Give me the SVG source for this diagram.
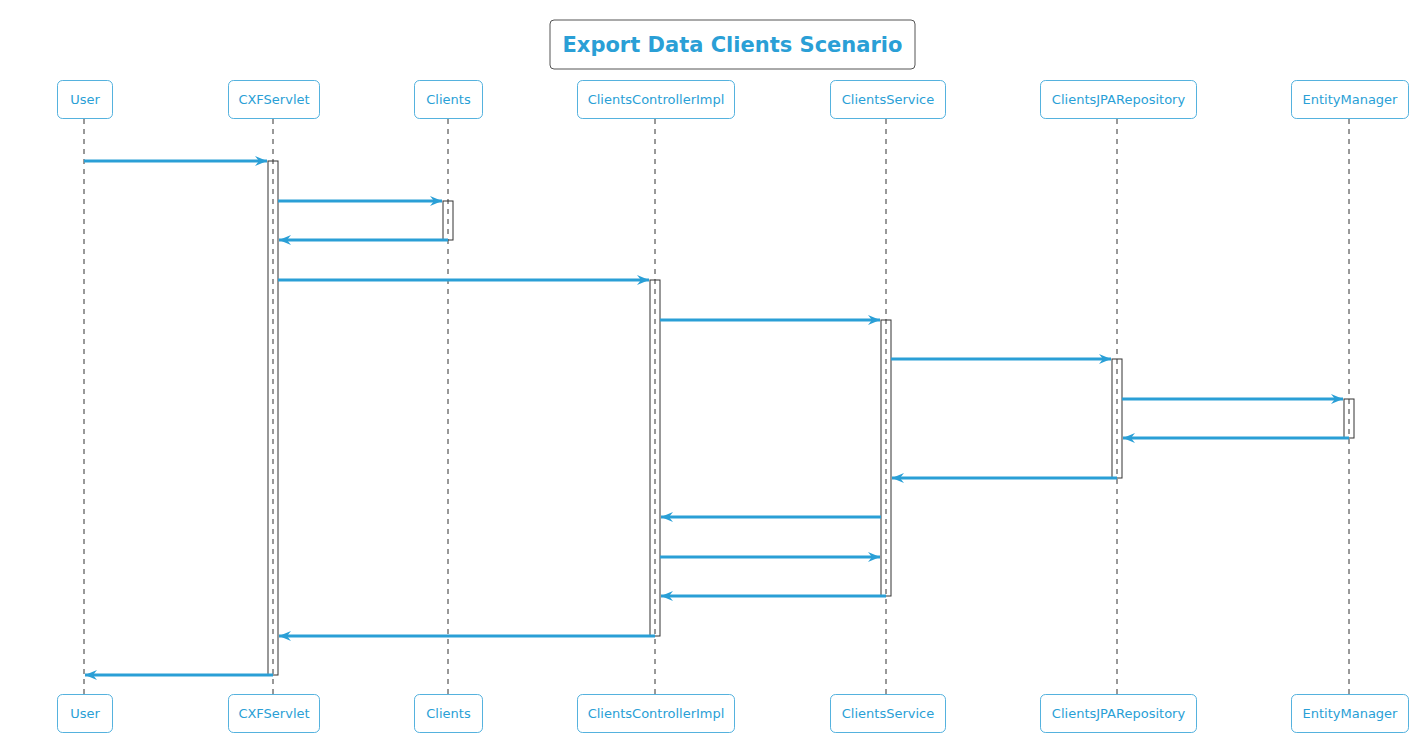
<svg xmlns="http://www.w3.org/2000/svg" width="1419" height="743" viewBox="0 0 1419 743">
<style>
.p rect{fill:#fff;stroke:#2a9fd6;stroke-width:1;stroke-opacity:0.8}
.p text{font-family:"DejaVu Sans",sans-serif;font-size:13px;fill:#2a9fd6;text-anchor:middle}
.life{stroke:#333;stroke-width:1;stroke-dasharray:5,5}
.act{fill:none;stroke:#333;stroke-width:1}
.msg{stroke:#2a9fd6;stroke-width:3;marker-end:url(#ah)}
</style>
<defs>
<marker id="ah" markerUnits="userSpaceOnUse" viewBox="0 0 12 10" refX="12" refY="5" markerWidth="12" markerHeight="10" orient="auto">
<path d="M0,0 L12,5 L0,10 L4,5 Z" fill="#2a9fd6"/>
</marker>
</defs>
<rect width="1419" height="743" fill="#fff"/>
<g id="title">
<rect x="550" y="20" width="365" height="49" rx="4" fill="#fff" stroke="#555" stroke-width="1"/>
<text x="732.5" y="52" font-family="DejaVu Sans, sans-serif" font-size="21" font-weight="bold" fill="#2a9fd6" text-anchor="middle">Export Data Clients Scenario</text>
</g>
<g id="lifelines">
<line class="life" x1="84" y1="119" x2="84" y2="694"/>
<line class="life" x1="273" y1="119" x2="273" y2="694"/>
<line class="life" x1="448" y1="119" x2="448" y2="694"/>
<line class="life" x1="655" y1="119" x2="655" y2="694"/>
<line class="life" x1="886" y1="119" x2="886" y2="694"/>
<line class="life" x1="1117" y1="119" x2="1117" y2="694"/>
<line class="life" x1="1349" y1="119" x2="1349" y2="694"/>
</g>
<g id="activations">
<rect class="act" x="268" y="161" width="10" height="514"/>
<rect class="act" x="443" y="201" width="10" height="39"/>
<rect class="act" x="650" y="280" width="10" height="356"/>
<rect class="act" x="881" y="320" width="10" height="276"/>
<rect class="act" x="1112" y="359" width="10" height="119"/>
<rect class="act" x="1344" y="399" width="10" height="39"/>
</g>
<g id="connectors">
<line class="msg" x1="84" y1="161" x2="267" y2="161"/>
<line class="msg" x1="278" y1="201" x2="442" y2="201"/>
<line class="msg" x1="448" y1="240" x2="279" y2="240"/>
<line class="msg" x1="278" y1="280" x2="649" y2="280"/>
<line class="msg" x1="660" y1="320" x2="880" y2="320"/>
<line class="msg" x1="891" y1="359" x2="1111" y2="359"/>
<line class="msg" x1="1122" y1="399" x2="1343" y2="399"/>
<line class="msg" x1="1349" y1="438" x2="1123" y2="438"/>
<line class="msg" x1="1117" y1="478" x2="892" y2="478"/>
<line class="msg" x1="881" y1="517" x2="661" y2="517"/>
<line class="msg" x1="660" y1="557" x2="880" y2="557"/>
<line class="msg" x1="886" y1="596" x2="661" y2="596"/>
<line class="msg" x1="655" y1="636" x2="279" y2="636"/>
<line class="msg" x1="273" y1="675" x2="85" y2="675"/>
</g>
<g id="user" class="p">
<rect x="57.5" y="80.5" width="55" height="38" rx="5"/><text x="85" y="104">User</text>
<rect x="57.5" y="694.5" width="55" height="38" rx="5"/><text x="85" y="718">User</text>
</g>
<g id="cxfservlet" class="p">
<rect x="228.5" y="80.5" width="91" height="38" rx="5"/><text x="274" y="104">CXFServlet</text>
<rect x="228.5" y="694.5" width="91" height="38" rx="5"/><text x="274" y="718">CXFServlet</text>
</g>
<g id="clients" class="p">
<rect x="414.5" y="80.5" width="68" height="38" rx="5"/><text x="448.5" y="104">Clients</text>
<rect x="414.5" y="694.5" width="68" height="38" rx="5"/><text x="448.5" y="718">Clients</text>
</g>
<g id="clientscontrollerimpl" class="p">
<rect x="577.5" y="80.5" width="157" height="38" rx="5"/><text x="656" y="104">ClientsControllerImpl</text>
<rect x="577.5" y="694.5" width="157" height="38" rx="5"/><text x="656" y="718">ClientsControllerImpl</text>
</g>
<g id="clientsservice" class="p">
<rect x="830.5" y="80.5" width="115" height="38" rx="5"/><text x="888" y="104">ClientsService</text>
<rect x="830.5" y="694.5" width="115" height="38" rx="5"/><text x="888" y="718">ClientsService</text>
</g>
<g id="clientsjparepository" class="p">
<rect x="1040.5" y="80.5" width="156" height="38" rx="5"/><text x="1118.5" y="104">ClientsJPARepository</text>
<rect x="1040.5" y="694.5" width="156" height="38" rx="5"/><text x="1118.5" y="718">ClientsJPARepository</text>
</g>
<g id="entitymanager" class="p">
<rect x="1291.5" y="80.5" width="117" height="38" rx="5"/><text x="1350" y="104">EntityManager</text>
<rect x="1291.5" y="694.5" width="117" height="38" rx="5"/><text x="1350" y="718">EntityManager</text>
</g>
</svg>
